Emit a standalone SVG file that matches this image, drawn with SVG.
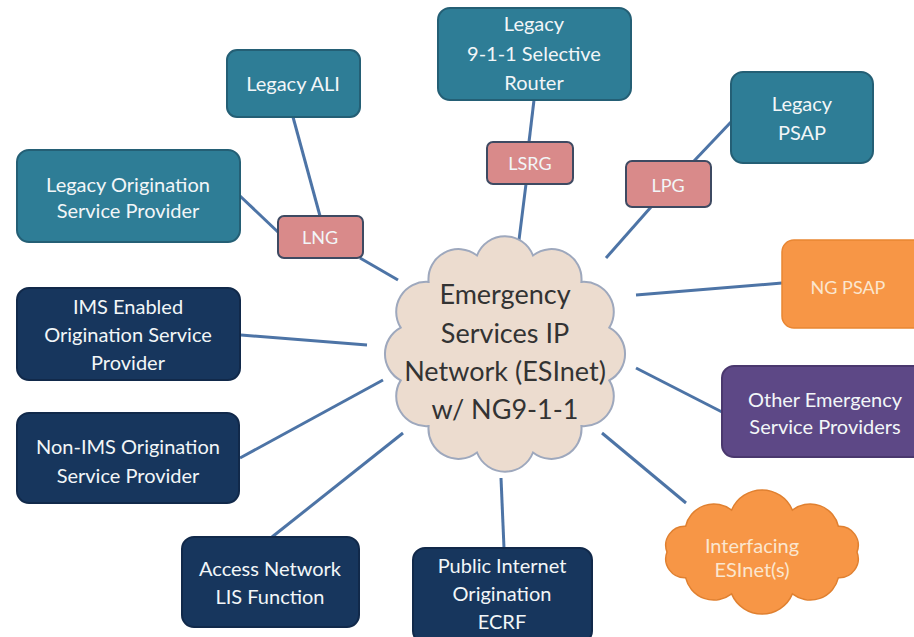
<svg xmlns="http://www.w3.org/2000/svg" width="914" height="637" viewBox="0 0 914 637">
<style>
.t{font-family:Lato,"Open Sans","Liberation Sans",sans-serif;font-size:20px;text-anchor:middle;fill:#f2f6f8}
.s{font-size:18px}
.c{font-family:Lato,"Open Sans","Liberation Sans",sans-serif;font-size:27px;text-anchor:middle;fill:#333}
.teal{fill:#2e7d96;stroke:#245f75;stroke-width:2}
.pink{fill:#d98a8a;stroke:#3e4a62;stroke-width:2}
.navy{fill:#17365d;stroke:#11294a;stroke-width:2}
.orange{fill:#f79646;stroke:#e98632;stroke-width:1.5}
.purple{fill:#5d4886;stroke:#4a386e;stroke-width:2}
.ln{stroke:#4d74a6;stroke-width:3;fill:none}
.oc{fill:#fbe6cf}
</style>
<rect width="914" height="637" fill="#fff"/>
<g id="connectors">
<line class="ln" x1="293" y1="117" x2="320" y2="216"/>
<line class="ln" x1="240" y1="196" x2="279" y2="233"/>
<line class="ln" x1="360" y1="258" x2="398" y2="280"/>
<line class="ln" x1="534" y1="100" x2="529" y2="142"/>
<line class="ln" x1="526" y1="184" x2="519" y2="240"/>
<line class="ln" x1="731" y1="122" x2="694" y2="161"/>
<line class="ln" x1="651" y1="207" x2="606" y2="258"/>
<line class="ln" x1="636" y1="295" x2="782" y2="283"/>
<line class="ln" x1="636" y1="368" x2="722" y2="412"/>
<line class="ln" x1="602" y1="433" x2="686" y2="503"/>
<line class="ln" x1="501" y1="478" x2="504" y2="548"/>
<line class="ln" x1="272" y1="537" x2="403" y2="433"/>
<line class="ln" x1="240" y1="458" x2="383" y2="380"/>
<line class="ln" x1="241" y1="335" x2="367" y2="345"/>
</g>
<g id="esinet">
<path d="M477,255.5 A30,30 0 0 1 533,255.5 A30,30 0 0 1 581.4,281.9 A30,30 0 0 1 609.3,327.6 A30,30 0 0 1 609.3,380.4 A30,30 0 0 1 581.4,426.1 A30,30 0 0 1 533,452.5 A30,30 0 0 1 477,452.5 A30,30 0 0 1 428.6,426.1 A30,30 0 0 1 400.7,380.4 A30,30 0 0 1 400.7,327.6 A30,30 0 0 1 428.6,281.9 A30,30 0 0 1 477,255.5 Z" fill="#ecdccf" stroke="#9ea8bd" stroke-width="2"/>
<text class="c" x="505" y="304">Emergency</text>
<text class="c" x="505" y="343">Services IP</text>
<text class="c" x="505" y="381">Network (ESInet)</text>
<text class="c" x="505" y="419">w/ NG9-1-1</text>
</g>
<g id="legacy-ali">
<rect class="teal" x="227" y="50" width="133" height="67" rx="10"/>
<text class="t" x="293" y="91">Legacy ALI</text>
</g>
<g id="legacy-osp">
<rect class="teal" x="17" y="150" width="223" height="92" rx="12"/>
<text class="t" x="128" y="192">Legacy Origination</text>
<text class="t" x="128" y="218">Service Provider</text>
</g>
<g id="lng">
<rect class="pink" x="278" y="216" width="85" height="42" rx="6"/>
<text class="t s" x="320" y="244">LNG</text>
</g>
<g id="legacy-sr">
<rect class="teal" x="438" y="8" width="193" height="92" rx="12"/>
<text class="t" x="534" y="31">Legacy</text>
<text class="t" x="534" y="61">9-1-1 Selective</text>
<text class="t" x="534" y="90">Router</text>
</g>
<g id="lsrg">
<rect class="pink" x="487" y="142" width="86" height="42" rx="6"/>
<text class="t s" x="530" y="170">LSRG</text>
</g>
<g id="lpg">
<rect class="pink" x="626" y="161" width="85" height="46" rx="6"/>
<text class="t s" x="668" y="192">LPG</text>
</g>
<g id="legacy-psap">
<rect class="teal" x="731" y="72" width="142" height="91" rx="12"/>
<text class="t" x="802" y="111">Legacy</text>
<text class="t" x="802" y="140">PSAP</text>
</g>
<g id="ng-psap">
<rect class="orange" x="782" y="240" width="145" height="88" rx="12"/>
<text class="t s oc" x="848" y="294">NG PSAP</text>
</g>
<g id="other-esp">
<rect class="purple" x="722" y="366" width="205" height="91" rx="12"/>
<text class="t" x="825" y="407">Other Emergency</text>
<text class="t" x="825" y="434">Service Providers</text>
</g>
<g id="interfacing">
<path d="M731.6,510.1 A33,33 0 0 1 792.4,510.1 A29,29 0 0 1 838.4,526.3 A19,19 0 0 1 857,552 A19,19 0 0 1 838.4,577.7 A29,29 0 0 1 792.4,593.9 A33,33 0 0 1 731.6,593.9 A29,29 0 0 1 685.6,577.7 A19,19 0 0 1 667,552 A19,19 0 0 1 685.6,526.3 A29,29 0 0 1 731.6,510.1 Z" fill="#f79646" stroke="#e08030" stroke-width="1.5"/>
<text class="t oc" x="752" y="553">Interfacing</text>
<text class="t oc" x="752" y="577">ESInet(s)</text>
</g>
<g id="ecrf">
<rect class="navy" x="413" y="548" width="179" height="95" rx="12"/>
<text class="t" x="502" y="573">Public Internet</text>
<text class="t" x="502" y="601">Origination</text>
<text class="t" x="502" y="629">ECRF</text>
</g>
<g id="access-lis">
<rect class="navy" x="182" y="537" width="177" height="90" rx="12"/>
<text class="t" x="270" y="576">Access Network</text>
<text class="t" x="270" y="604">LIS Function</text>
</g>
<g id="non-ims">
<rect class="navy" x="17" y="413" width="222" height="90" rx="12"/>
<text class="t" x="128" y="454">Non-IMS Origination</text>
<text class="t" x="128" y="483">Service Provider</text>
</g>
<g id="ims">
<rect class="navy" x="17" y="288" width="223" height="92" rx="12"/>
<text class="t" x="128" y="314">IMS Enabled</text>
<text class="t" x="128" y="342">Origination Service</text>
<text class="t" x="128" y="370">Provider</text>
</g>
</svg>
